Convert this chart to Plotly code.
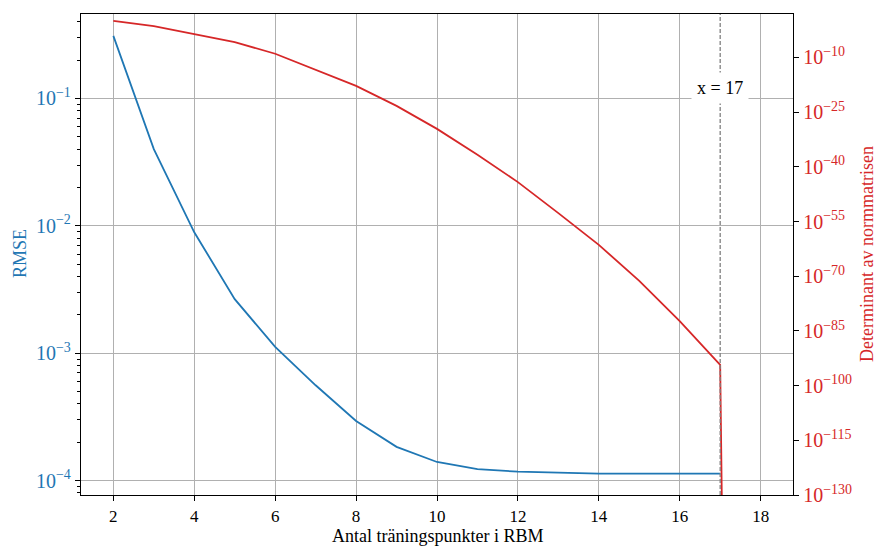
import numpy as np
import plotly.graph_objects as go

# Data
n_points = [2, 3, 4, 5, 6, 7, 8, 9, 10, 11, 12, 13, 14, 15, 16, 17]
rmse = [0.31, 0.040, 0.0089, 0.00266, 0.00112, 0.00056, 0.000294, 0.000184,
        0.000140, 0.000123, 0.0001175, 0.000115, 0.0001135, 0.0001135, 0.0001135, 0.0001135]
n_points_det = [2, 3, 4, 5, 6, 7, 8, 9, 10, 11, 12, 13, 14, 15, 16, 17, 18]
determinant = [1.0, 4e-2, 2.5e-4, 1.6e-6, 1e-9, 4e-14, 1.6e-18, 5e-24, 2.5e-30,
               2e-37, 6.3e-45, 2e-53, 4e-62, 5e-72, 5e-83, 5e-95, 0.0]
rmse_ticks = [-4, -3, -2, -1]
det_ticks = [-130, -115, -100, -85, -70, -55, -40, -25, -10]
x_ticks = [2, 4, 6, 8, 10, 12, 14, 16, 18]
vline_x = 17

BLUE = "#1f77b4"
RED = "#d62728"
FONT = "Liberation Serif"

# log10 of determinant, non-positive values clipped like matplotlib's log scale
det_arr = np.array(determinant)
det_log = np.where(det_arr > 0, np.log10(np.where(det_arr > 0, det_arr, 1.0)), -1000.0)

minor_vals = [m * 10.0 ** k for k in range(-5, 0) for m in range(2, 10)]

L, R, T, B = 81, 83, 14, 51
W, H = 876, 546
pw, ph = W - L - R, H - T - B


def px_x(p):
    return (p - L) / pw


def px_y(p):
    return (H - B - p) / ph


fig = go.Figure()
fig.add_trace(go.Scatter(x=n_points, y=rmse, mode="lines",
                         line=dict(color=BLUE, width=1.8), yaxis="y", showlegend=False))
fig.add_trace(go.Scatter(x=n_points_det, y=det_log, mode="lines",
                         line=dict(color=RED, width=1.8), yaxis="y2", showlegend=False))

fig.add_shape(type="line", x0=vline_x, x1=vline_x, y0=0, y1=1, xref="x", yref="paper",
              line=dict(color="gray", width=1.3, dash="4px,2px"))
fig.add_annotation(x=vline_x, y=px_y(88), xref="x", yref="paper", text=f"x = {vline_x}",
                   xanchor="center", yanchor="middle",
                   showarrow=False, bgcolor="white", font=dict(family=FONT, size=18, color="black"),
                   borderpad=5)

# axis titles
fig.add_annotation(x=px_x(20), y=px_y(254), xref="paper", yref="paper", text="RMSE",
                   showarrow=False, textangle=-90, xanchor="center", yanchor="middle",
                   font=dict(family=FONT, size=18, color=BLUE))
fig.add_annotation(text="Determinant av normmatrisen", showarrow=False, textangle=-90,
                   xref="paper", yref="paper", x=px_x(867), y=px_y(254),
                   xanchor="center", yanchor="middle",
                   font=dict(family=FONT, size=18, color=RED))
fig.add_annotation(text="Antal träningspunkter i RBM", showarrow=False,
                   xref="paper", yref="paper", x=px_x(437), y=px_y(536),
                   xanchor="center", yanchor="middle",
                   font=dict(family=FONT, size=18, color="black"))

fig.update_layout(
    width=W, height=H,
    margin=dict(l=L, r=R, t=T, b=B, autoexpand=False),
    plot_bgcolor="white", paper_bgcolor="white",
    font=dict(family=FONT, size=17, color="black"),
    xaxis=dict(range=[1.2, 18.8], tickvals=x_ticks, ticks="outside", ticklen=5,
               tickcolor="black", showgrid=True, gridcolor="#b0b0b0", gridwidth=1,
               showline=True, linecolor="black", linewidth=1.3, mirror=True,
               zeroline=False, automargin=False, tickfont=dict(size=17)),
    yaxis=dict(type="log", range=[-4.113, -0.337],
               tickvals=[10.0 ** t for t in rmse_ticks],
               ticktext=[f"10<sup>−{-t}</sup>" for t in rmse_ticks],
               ticks="outside", ticklen=5, tickcolor="black",
               tickfont=dict(color=BLUE, size=20),
               minor=dict(tickvals=minor_vals, ticks="outside", ticklen=3, tickcolor="black",
                          showgrid=False),
               showgrid=True, gridcolor="#b0b0b0", gridwidth=1,
               showline=True, linecolor="black", linewidth=1.3, zeroline=False,
               automargin=False),
    yaxis2=dict(overlaying="y", side="right", range=[-130, 1.9],
                tickvals=det_ticks, ticktext=[f"10<sup>−{-t}</sup>" for t in det_ticks],
                ticks="outside", ticklen=5, tickcolor="black",
                tickfont=dict(color=RED, size=20), showgrid=False, zeroline=False,
                showline=True, linecolor="black", linewidth=1.3, automargin=False),
)

fig.write_html("out.html", config={"displayModeBar": False})

# remove the browser's default body margin so the figure sits at the page origin
with open("out.html", "r", encoding="utf-8") as f:
    html = f.read()
html = html.replace("<head>", "<head><style>html,body{margin:0;padding:0;}</style>", 1)
with open("out.html", "w", encoding="utf-8") as f:
    f.write(html)
